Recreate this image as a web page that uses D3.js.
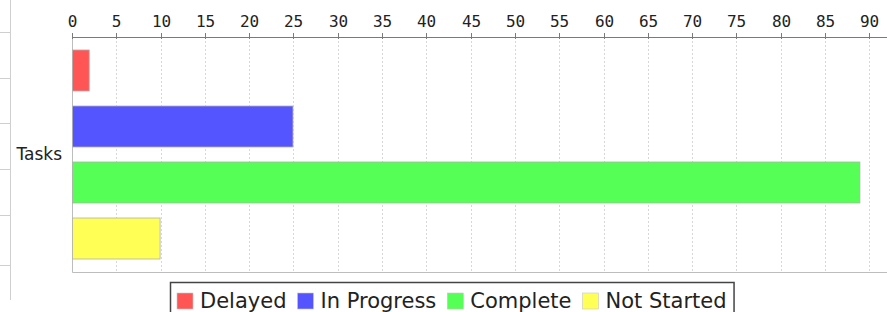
<!DOCTYPE html>
<html>
<head>
<meta charset="utf-8">
<script src="https://cdn.jsdelivr.net/npm/d3@7"></script>
<style>
  body { margin: 0; background: #fff; }
  svg { display: block; }
</style>
</head>
<body>
<div id="chart"></div>
<script>
/** DATA */
const category = "Tasks";
const series = ["Delayed", "In Progress", "Complete", "Not Started"];
const values = [2, 25, 89, 10];
const colors = ["#ff5555", "#5555ff", "#55ff55", "#ffff55"];
const tickValues = d3.range(0, 91, 5);

const data = series.map((s, i) => ({ series: s, value: values[i], color: colors[i] }));

/** CONSTANTS */
const width = 887;
const height = 312;
const margins = { top: 37, bottom: 40, left: 72, right: 0 };

const xScale = d3.scaleLinear()
  .domain([0, 92])
  .range([margins.left, width - margins.right]);

const yScale = d3.scaleBand()
  .domain(series)
  .range([margins.top, height - margins.bottom])
  .paddingInner(0.268)
  .paddingOuter(0.232);

const svg = d3.select("#chart")
  .append("svg")
  .attr("width", width)
  .attr("height", height);

// leftover frame on the far left
svg.append("line")
  .attr("x1", 10.5).attr("x2", 10.5)
  .attr("y1", 0).attr("y2", 300)
  .attr("stroke", "#cfcfcf");
svg.selectAll("line.leftTick")
  .data([32, 78, 123, 169, 215, 265])
  .join("line")
  .attr("class", "leftTick")
  .attr("x1", 0).attr("x2", 10)
  .attr("y1", d => d + 0.5).attr("y2", d => d + 0.5)
  .attr("stroke", "#cfcfcf");

// gridlines
svg.selectAll("line.grid")
  .data(tickValues)
  .join("line")
  .attr("class", "grid")
  .attr("x1", d => Math.round(xScale(d)) + 0.5)
  .attr("x2", d => Math.round(xScale(d)) + 0.5)
  .attr("y1", margins.top)
  .attr("y2", height - margins.bottom)
  .attr("stroke", "#d8d8d8")
  .attr("stroke-dasharray", "2,2");

// plot border left + bottom
svg.append("path")
  .attr("d", `M${margins.left + 0.5},${margins.top} V${height - margins.bottom + 0.5} H${width}`)
  .attr("fill", "none")
  .attr("stroke", "#bdbdbd");

// bars
svg.selectAll("rect.bar")
  .data(data)
  .join("rect")
  .attr("class", "bar")
  .attr("x", xScale(0) + 0.5)
  .attr("y", d => yScale(d.series))
  .attr("width", d => xScale(d.value) - xScale(0) - 1)
  .attr("height", yScale.bandwidth())
  .attr("fill", d => d.color)
  .attr("stroke", "#b0b0b0")
  .attr("stroke-width", 0.8);

// top axis
const xAxis = d3.axisTop(xScale)
  .tickValues(tickValues)
  .tickSizeInner(4)
  .tickSizeOuter(0)
  .tickPadding(6);

const gx = svg.append("g")
  .attr("transform", `translate(0,${margins.top})`)
  .call(xAxis);
gx.select(".domain").attr("stroke", "#7a7a7a").attr("d", `M${margins.left},0.5H${width}`);
gx.selectAll(".tick").attr("transform", d => `translate(${Math.round(xScale(d)) + 0.5},0)`);
gx.selectAll(".tick line").attr("stroke", "#7a7a7a").attr("y2", 2).attr("y1", -4);
gx.selectAll(".tick text")
  .attr("fill", "#222")
  .style("font-family", "'DejaVu Sans Mono', monospace")
  .style("font-size", "16px");

// category label
svg.append("text")
  .attr("x", margins.left - 10)
  .attr("y", (margins.top + height - margins.bottom) / 2)
  .attr("dy", "0.35em")
  .attr("text-anchor", "end")
  .attr("fill", "#222")
  .style("font-family", "'DejaVu Sans', sans-serif")
  .style("font-size", "17px")
  .text(category);

// legend
const legendBox = svg.append("rect");
const legend = svg.append("g");
const sq = 16;
let cx = 0;
const items = legend.selectAll("g.item")
  .data(data)
  .join("g")
  .attr("class", "item");
items.append("rect")
  .attr("width", sq).attr("height", sq)
  .attr("fill", d => d.color)
  .attr("stroke", "#c8c8c8")
  .attr("stroke-width", 0.6);
items.append("text")
  .attr("x", sq + 7)
  .attr("y", sq - 1)
  .attr("fill", "#222")
  .style("font-family", "'DejaVu Sans', sans-serif")
  .style("font-size", "21px")
  .text(d => d.series);
items.each(function () {
  const t = d3.select(this).select("text").node().getComputedTextLength();
  d3.select(this).attr("transform", `translate(${cx},0)`);
  cx += sq + 7 + t + 11;
});
const legendW = cx - 11 + 14;
const legendX = Math.round(452 - legendW / 2);
legend.attr("transform", `translate(${legendX + 7},293)`);
legendBox
  .attr("x", legendX + 0.5)
  .attr("y", 282.5)
  .attr("width", legendW)
  .attr("height", 40)
  .attr("fill", "#fff")
  .attr("stroke", "#444")
  .attr("stroke-width", 1.5);
</script>
</body>
</html>
